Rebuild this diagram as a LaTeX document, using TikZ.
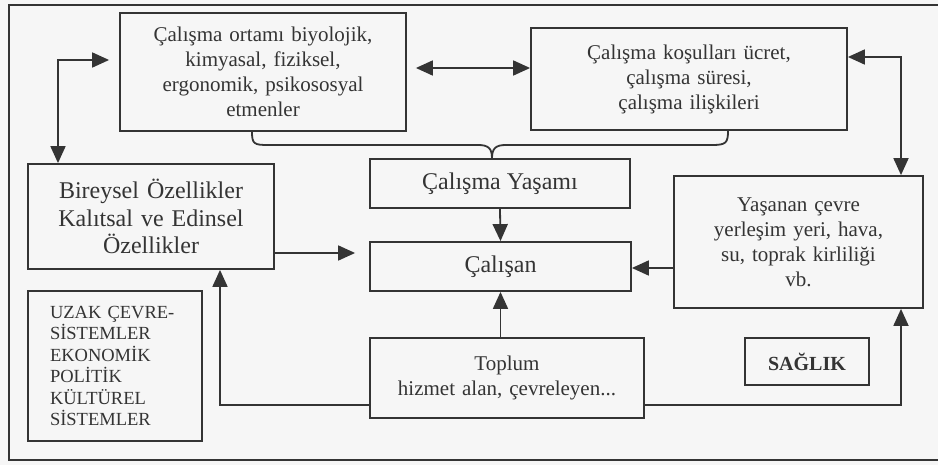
\documentclass[tikz,border=0pt]{standalone}
\usepackage{fontspec}
\setmainfont{Liberation Serif}
\usetikzlibrary{arrows.meta}
\definecolor{ink}{HTML}{343434}
\definecolor{paper}{HTML}{F6F6F6}
\begin{document}
\begin{tikzpicture}[x=1pt,y=-1pt,
  line/.style={draw=ink,line width=1.8pt},
  tip/.style={},
  box/.style={line,rectangle,inner sep=0pt,align=center,text=ink,
    font=\fontsize{21}{25}\selectfont},
  arr/.style={line,-{Triangle[length=17pt,width=15pt]}},
  dbl/.style={line,{Triangle[length=17pt,width=15pt]}-{Triangle[length=17pt,width=15pt]}}]
\useasboundingbox (0,0) rectangle (938,465);
\fill[paper] (0,0) rectangle (938,465);
\draw[line,line width=1.5pt] (945,5) -- (9,5) -- (9,460) -- (945,460);

\node[box,minimum width=286pt,minimum height=118pt,text width=280pt] (env) at (263,72)
  {Çalışma ortamı biyolojik,\\kimyasal, fiziksel,\\ergonomik, psikososyal\\etmenler};
\node[box,minimum width=316pt,minimum height=102pt,text width=300pt] (cond) at (689,79)
  {Çalışma koşulları ücret,\\çalışma süresi,\\çalışma ilişkileri};
\node[box,minimum width=246pt,minimum height=105pt,text width=240pt,
  font=\fontsize{24}{27.5}\selectfont] (ind) at (151,216.5)
  {Bireysel Özellikler\\Kalıtsal ve Edinsel\\Özellikler};
\node[box,minimum width=260pt,minimum height=49pt,font=\fontsize{24}{27}\selectfont] (life) at (500,183.5)
  {Çalışma Yaşamı};
\node[box,minimum width=261pt,minimum height=49pt,font=\fontsize{24}{27}\selectfont] (worker) at (500.5,266.5)
  {Çalışan};
\node[box,minimum width=249pt,minimum height=132pt,text width=240pt] (live) at (798.5,242)
  {Yaşanan çevre\\yerleşim yeri, hava,\\su, toprak kirliliği\\vb.};
\node[box,minimum width=274pt,minimum height=80pt,text width=268pt] (soc) at (507,378)
  {Toplum\\hizmet alan, çevreleyen...};
\node[box,minimum width=124pt,minimum height=47pt,font=\fontsize{20}{24}\bfseries] (health) at (807,361.5)
  {SAĞLIK};
\node[box,minimum width=174pt,minimum height=150pt,text width=130pt,align=left,
  font=\fontsize{18.5}{21.5}\selectfont] (macro) at (115,366)
  {UZAK ÇEVRE-\\SİSTEMLER\\EKONOMİK\\POLİTİK\\KÜLTÜREL\\SİSTEMLER};

\coordinate (c1) at (58,60);
\coordinate (c2) at (0,68);
\coordinate (c3) at (901,57);
\coordinate (c4) at (0,253);
\coordinate (c5) at (0,268);
\coordinate (c6) at (220,405);
\coordinate (c7) at (901,405);
\coordinate (bl) at (252,0);
\coordinate (br) at (728,0);

\draw[dbl,shorten <=10pt] (env.west |- c1) -| (ind.north -| c1);
\draw[dbl,shorten <=9pt] (env.east |- c2) -- (cond.west |- c2);
\draw[dbl] (cond.east |- c3) -| (live.north -| c3);
\draw[arr,shorten >=14pt] (ind.east |- c4) -- (worker.west |- c4);
\draw[arr] (live.west |- c5) -- (worker.east |- c5);
\draw[arr] (life.south) -- (worker.north);
\draw[arr] (worker.south |- soc.north) -- (worker.south);
\draw[arr] (soc.west |- c6) -| (ind.south -| c6);
\draw[arr] (soc.east |- c7) -| (live.south -| c7);

\draw[line] (env.south -| bl) .. controls +(0,12) and +(-14,0) .. (268,145) -- (478,145)
  .. controls +(10,0) and +(0,-10) .. (life.north -| 492,0)
  .. controls +(0,-10) and +(-10,0) .. (506,145) -- (712,145)
  .. controls +(14,0) and +(0,12) .. (cond.south -| br);
\end{tikzpicture}
\end{document}
